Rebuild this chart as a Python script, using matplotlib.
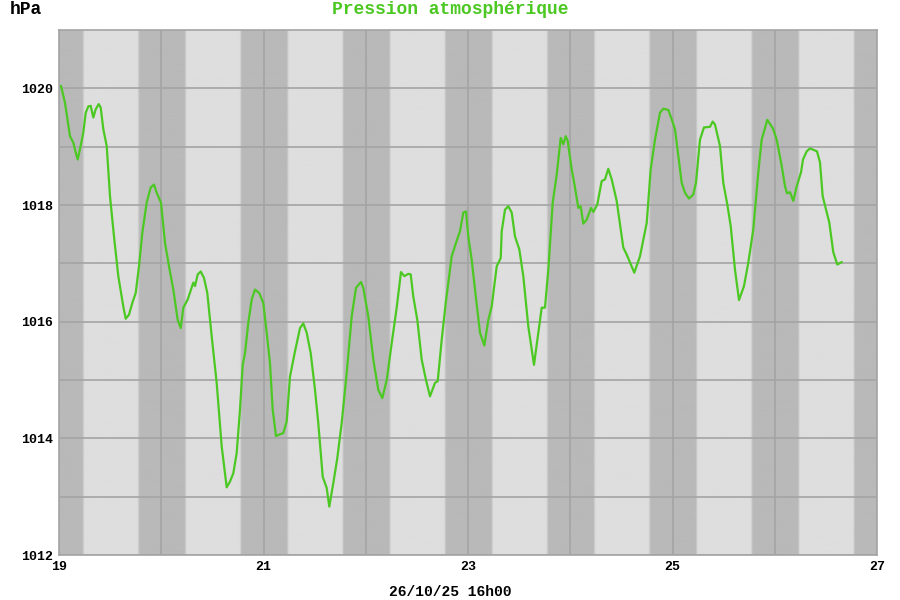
import matplotlib.pyplot as plt
import numpy as np

plt.rcParams['font.family'] = ['Liberation Mono', 'DejaVu Sans Mono']
plt.rcParams['font.weight'] = 'bold'

# hours since 19/10 00h00 and pressure (hPa)
hours = [0.47, 1.41, 2.58, 3.36, 3.92, 4.39, 5.16, 5.70, 6.27, 6.88,
         7.44, 8.05, 8.61, 9.32, 9.79, 10.40, 11.20, 11.97, 12.91, 13.92,
         15.09, 15.66, 16.43, 17.20, 18.00, 18.78, 19.55, 20.58, 21.52, 22.30,
         22.93, 23.94, 24.88, 25.82, 26.83, 27.86, 28.57, 29.18, 30.21, 30.98,
         31.52, 31.92, 32.56, 33.26, 34.03, 34.81, 35.84, 37.01, 38.19, 39.36,
         40.14, 40.91, 41.71, 42.48, 43.12, 43.66, 44.43, 45.23, 46.01, 47.01,
         47.95, 48.75, 49.52, 50.16, 50.93, 51.87, 52.65, 53.44, 54.22, 55.39,
         56.57, 57.34, 58.14, 59.08, 60.09, 60.86, 61.90, 62.83, 63.44, 64.38,
         65.32, 66.35, 67.53, 68.70, 69.71, 70.88, 71.42, 72.60, 73.77, 74.95,
         75.89, 76.92, 78.09, 79.26, 80.27, 81.05, 81.99, 82.55, 83.16, 84.10,
         85.13, 86.14, 87.08, 88.25, 88.89, 89.83, 90.77, 92.17, 93.18, 94.12,
         94.90, 95.53, 96.07, 96.87, 97.64, 98.82, 99.83, 100.77, 101.56, 102.74,
         103.68, 103.91, 104.69, 105.46, 106.26, 107.03, 108.04, 108.98, 110.15, 111.49,
         112.50, 113.30, 114.07, 114.85, 115.88, 116.82, 117.76, 118.37, 118.93, 119.40,
         120.34, 121.11, 121.89, 122.45, 123.06, 123.86, 124.87, 125.41, 126.35, 127.38,
         128.16, 128.93, 129.73, 130.90, 132.45, 133.25, 135.03, 136.37, 137.94, 138.88,
         139.89, 141.06, 141.84, 143.01, 143.81, 144.58, 145.36, 146.16, 146.93, 147.87,
         148.88, 149.51, 150.45, 151.39, 152.80, 153.43, 153.97, 155.15, 155.92, 156.86,
         157.66, 158.67, 159.61, 160.78, 161.79, 162.96, 164.14, 164.93, 166.25, 167.59,
         168.46, 169.63, 170.41, 170.88, 171.58, 172.35, 173.15, 174.16, 174.63, 175.50,
         176.27, 177.91, 178.62, 179.25, 180.03, 180.80, 181.74, 182.68, 183.71]
pression = [1020.04, 1019.75, 1019.18, 1019.07, 1018.90, 1018.78, 1019.04, 1019.24, 1019.58, 1019.69,
            1019.70, 1019.50, 1019.64, 1019.73, 1019.67, 1019.30, 1019.01, 1018.15, 1017.46, 1016.78,
            1016.26, 1016.05, 1016.12, 1016.32, 1016.49, 1016.95, 1017.52, 1018.04, 1018.30, 1018.35,
            1018.21, 1018.04, 1017.35, 1016.95, 1016.55, 1016.03, 1015.89, 1016.24, 1016.38, 1016.55,
            1016.67, 1016.61, 1016.81, 1016.86, 1016.75, 1016.49, 1015.75, 1014.95, 1013.86, 1013.16,
            1013.26, 1013.40, 1013.75, 1014.49, 1015.26, 1015.46, 1015.98, 1016.38, 1016.55, 1016.49,
            1016.32, 1015.81, 1015.29, 1014.49, 1014.04, 1014.07, 1014.09, 1014.29, 1015.06, 1015.49,
            1015.89, 1015.97, 1015.81, 1015.46, 1014.83, 1014.26, 1013.34, 1013.15, 1012.83, 1013.23,
            1013.66, 1014.26, 1015.12, 1016.09, 1016.58, 1016.68, 1016.58, 1016.09, 1015.35, 1014.83,
            1014.69, 1015.00, 1015.63, 1016.24, 1016.85, 1016.78, 1016.82, 1016.81, 1016.43, 1016.03,
            1015.35, 1015.00, 1014.72, 1014.95, 1014.98, 1015.69, 1016.32, 1017.12, 1017.35, 1017.55,
            1017.87, 1017.89, 1017.46, 1017.06, 1016.55, 1015.81, 1015.59, 1016.03, 1016.26, 1016.95,
            1017.09, 1017.55, 1017.92, 1017.98, 1017.87, 1017.46, 1017.24, 1016.78, 1015.92, 1015.26,
            1015.81, 1016.24, 1016.24, 1016.89, 1018.04, 1018.52, 1019.15, 1019.04, 1019.18, 1019.10,
            1018.61, 1018.30, 1017.95, 1017.98, 1017.68, 1017.75, 1017.95, 1017.88, 1018.01, 1018.41,
            1018.44, 1018.62, 1018.44, 1018.07, 1017.27, 1017.15, 1016.84, 1017.12, 1017.69, 1018.61,
            1019.12, 1019.58, 1019.65, 1019.63, 1019.47, 1019.30, 1018.84, 1018.38, 1018.21, 1018.11,
            1018.18, 1018.38, 1019.12, 1019.33, 1019.34, 1019.43, 1019.38, 1019.01, 1018.38, 1018.01,
            1017.64, 1016.89, 1016.37, 1016.61, 1017.01, 1017.58, 1018.56, 1019.12, 1019.46, 1019.31,
            1019.12, 1018.67, 1018.32, 1018.20, 1018.22, 1018.07, 1018.32, 1018.56, 1018.78, 1018.92,
            1018.97, 1018.92, 1018.73, 1018.15, 1017.92, 1017.70, 1017.19, 1016.98, 1017.02]

# day / night limits (hour of day) for 19 .. 26
jours = [19, 20, 21, 22, 23, 24, 25, 26]
lever = [5.7, 5.7, 5.7, 5.7, 5.7, 5.7, 5.7, 5.7]
coucher = [18.65, 18.65, 18.65, 18.65, 18.65, 18.65, 18.65, 18.65]

x_ticks = [19, 20, 21, 22, 23, 24, 25, 26, 27]
x_labels = ['19', '', '21', '', '23', '', '25', '', '27']
y_ticks = [1012, 1013, 1014, 1015, 1016, 1017, 1018, 1019, 1020]
y_labels = ['1012', '', '1014', '', '1016', '', '1018', '', '1020']

vert = '#4cc822'
gris = '#a4a4a4'
clair = np.array([222, 222, 222]) / 255
sombre = np.array([185, 185, 185]) / 255

fig = plt.figure(figsize=(9, 6), dpi=100)
ax = fig.add_axes([59 / 900, 45 / 600, 818 / 900, 525 / 600])

# background: night bands with soft edges
xs = np.linspace(19, 27, 3000)
jour = np.zeros_like(xs)
rampe = 0.5
for j, lv, cc in zip(jours, lever, coucher):
    hod = (xs - j) * 24
    monte = np.clip((hod - lv) / rampe + 0.5, 0, 1)
    descend = np.clip((cc - hod) / rampe + 0.5, 0, 1)
    jour = np.maximum(jour, monte * descend)
nuit = 1 - jour
rgb = clair[None, None, :] + (sombre - clair)[None, None, :] * nuit[None, :, None]
ax.imshow(rgb, extent=[19, 27, 1012, 1021], aspect='auto', zorder=0,
          interpolation='bilinear')

x = 19 + np.array(hours) / 24
ax.plot(x, pression, color=vert, linewidth=1.6, zorder=3)

ax.set_xlim(19, 27)
ax.set_ylim(1012, 1021)
ax.set_xticks(x_ticks)
ax.set_xticklabels(x_labels)
ax.set_yticks(y_ticks)
ax.set_yticklabels(y_labels)
ax.tick_params(length=0, labelsize=9.5, pad=4)
ax.grid(True, color=gris, linewidth=1.2, zorder=1)
for s in ax.spines.values():
    s.set_color(gris)
    s.set_linewidth(1.2)

fig.text(10 / 900, 1 - 10 / 600, 'hPa', ha='left', va='center', fontsize=13)
fig.text(0.5, 1 - 10 / 600, 'Pression atmosphérique', ha='center', va='center',
         fontsize=13, color=vert)
fig.text(0.5, 1 - 592 / 600, '26/10/25 16h00', ha='center', va='center', fontsize=10.5)

fig.savefig('out.png', dpi=100)
